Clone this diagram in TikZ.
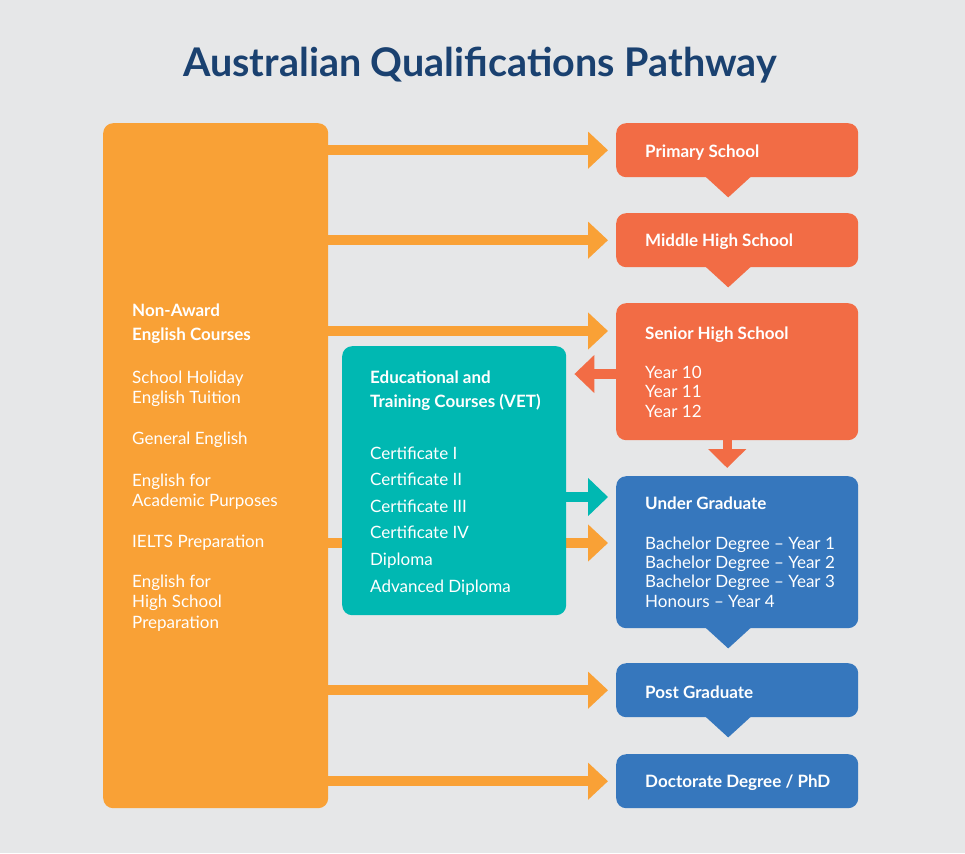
\documentclass[tikz,border=0pt]{standalone}
\usepackage{fontspec}
\setmainfont{Lato}
\usetikzlibrary{arrows.meta}

\definecolor{bg}{HTML}{E6E7E8}
\definecolor{navy}{HTML}{1A4170}
\definecolor{orng}{HTML}{F9A136}
\definecolor{rd}{HTML}{F26C45}
\definecolor{tl}{HTML}{00B8B2}
\definecolor{bl}{HTML}{3677BD}

\tikzset{
  box/.style={rounded corners=10pt,anchor=north west,inner sep=0pt},
  head/.style={font=\bfseries\fontsize{17}{20}\selectfont,text=white,inner sep=0pt},
  item/.style={font=\fontsize{17}{20}\selectfont,text=white,inner sep=0pt},
  oarrow/.style={orng,line width=10pt,-{Triangle[width=36pt,length=20pt]},shorten >=8pt},
  rarrow/.style={rd,line width=10pt,-{Triangle[width=37pt,length=20pt]},shorten >=8pt},
  tarrow/.style={tl,line width=10pt,-{Triangle[width=37pt,length=20pt]},shorten >=8pt}
}

\begin{document}
\begin{tikzpicture}[x=1pt,y=-1pt]

	\fill[bg] (0,0) rectangle (965,853);
	\node[font=\bfseries\fontsize{39.5}{44}\selectfont,text=navy,anchor=base] (ttl) at (480,77) {Australian Qualifications Pathway};

	% boxes
	\node[box,fill=orng,minimum width=225pt,minimum height=685pt] (eng) at (103,123) {};
	\node[box,fill=rd,minimum width=242pt,minimum height=54pt] (prim) at (616,123) {};
	\node[box,fill=rd,minimum width=242pt,minimum height=54pt] (mid) at (616,213) {};
	\node[box,fill=rd,minimum width=242pt,minimum height=137pt] (senior) at (616,303) {};
	\node[box,fill=bl,minimum width=242pt,minimum height=152pt] (ug) at (616,476) {};
	\node[box,fill=bl,minimum width=242pt,minimum height=54pt] (post) at (616,663) {};
	\node[box,fill=bl,minimum width=242pt,minimum height=54pt] (phd) at (616,754) {};

	% callout tips
	\foreach \n/\c in {prim/rd,mid/rd,ug/bl,post/bl}
		\fill[\c] ([xshift=-32pt,yshift=1pt]\n.south) -- ++(23,21) -- ++(23,-21) -- cycle;

	% arrows from the english courses
	\draw[oarrow] (eng.east |- prim.west) -- (prim.west);
	\draw[oarrow] (eng.east |- mid.west) -- (mid.west);
	\draw[oarrow] (eng.east |- 0,331) -- (senior.west |- 0,331);
	\draw[oarrow] (eng.east |- 0,543) -- (ug.west |- 0,543);
	\draw[oarrow] (eng.east |- post.west) -- (post.west);
	\draw[oarrow] (eng.east |- phd.west) -- (phd.west);

	\node[box,fill=tl,minimum width=224pt,minimum height=269pt] (vet) at (342,346) {};

	\draw[rarrow] (senior.west |- 0,374) -- (vet.east |- 0,374);
	\draw[rd,line width=9pt,-{Triangle[width=37pt,length=19pt]},shorten >=8pt] ([xshift=-10pt]senior.south) -- ([xshift=-10pt]ug.north);
	\draw[tarrow] (vet.east |- 0,497) -- (ug.west |- 0,497);

	% texts
	\node[head,anchor=west] (primt) at ([xshift=29pt,yshift=-2pt]prim.west) {Primary School};
	\node[head,anchor=west] (midt) at ([xshift=29pt,yshift=-2pt]mid.west) {Middle High School};
	\node[head,anchor=west] (postt) at ([xshift=29pt,yshift=-2pt]post.west) {Post Graduate};
	\node[head,anchor=west] (phdt) at ([xshift=29pt,yshift=-2pt]phd.west) {Doctorate Degree / PhD};

	\node[head,anchor=base west] (seniort) at (645,339) {Senior High School};
	\foreach \t [count=\i] in {Year 10,Year 11,Year 12}
		\node[item,anchor=base west] (yr\i) at (645,378+19.5*\i-19.5) {\t};

	\node[head,anchor=base west] (ugt) at (645,509) {Under Graduate};
	\foreach \t [count=\i] in {Bachelor Degree – Year 1,Bachelor Degree – Year 2,Bachelor Degree – Year 3,Honours – Year 4}
		\node[item,anchor=base west] (deg\i) at (645,549+19.4*\i-19.4) {\t};

	\node[head,anchor=base west] (vett1) at (370,383) {Educational and};
	\node[head,anchor=base west] (vett2) at (370,407) {Training Courses (VET)};
	\foreach \t [count=\i] in {Certificate I,Certificate II,Certificate III,Certificate IV,Diploma,Advanced Diploma}
		\node[item,anchor=base west] (cert\i) at (370,459+26.6*\i-26.6) {\t};

	\node[head,anchor=base west] (engt1) at (132,316) {Non-Award};
	\node[head,anchor=base west] (engt2) at (132,340) {English Courses};
	\foreach \y/\t [count=\i] in {383/School Holiday,403/English Tuition,444/General English,486/English for,506/Academic Purposes,547/IELTS Preparation,587/English for,607/High School,628/Preparation}
		\node[item,anchor=base west] (crs\i) at (132,\y) {\t};

\end{tikzpicture}
\end{document}
